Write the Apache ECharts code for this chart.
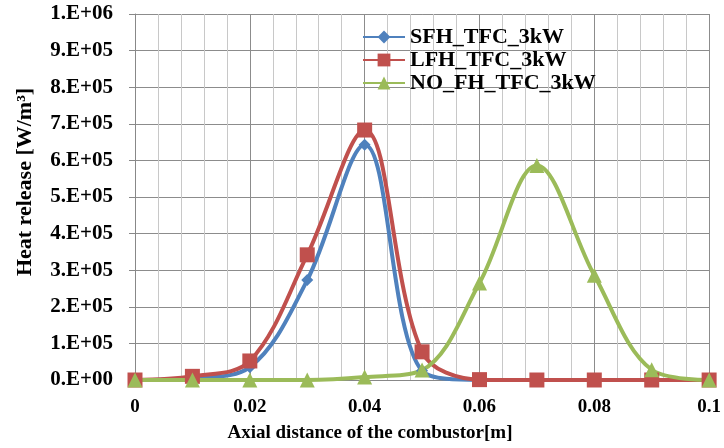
<!DOCTYPE html>
<html>
<head>
<meta charset="utf-8">
<script src="https://cdn.jsdelivr.net/npm/echarts@6/dist/echarts.min.js"></script>
<style>
html, body { margin: 0; padding: 0; background: #fff; }
#chart { width: 724px; height: 448px; }
</style>
</head>
<body>
<div id="chart"></div>
<script>
// axial positions [m]
const xPos = [0, 0.01, 0.02, 0.03, 0.04, 0.05, 0.06, 0.07, 0.08, 0.09, 0.1];
// heat release [W/m3]
const sfh = [0, 5000, 35000, 273000, 643000, 25000, 0, 0, 0, 0, 0];
const lfh = [0, 10000, 52000, 342000, 683000, 77000, 1000, 0, 0, 0, 0];
const noFh = [0, 0, 0, 0, 8000, 27000, 265000, 586000, 286000, 28000, 0];
const seriesNames = ['SFH_TFC_3kW', 'LFH_TFC_3kW', 'NO_FH_TFC_3kW'];
const xTitle = 'Axial distance of the combustor[m]';
const yTitle = 'Heat release [W/m³]';

const font = 'Liberation Serif';
const pairs = arr => xPos.map((x, i) => [x, arr[i]]);

const chart = echarts.init(document.getElementById('chart'));
chart.setOption({
    animation: false,
    textStyle: { fontFamily: font },
    grid: { left: 135, right: 13, top: 14, bottom: 68 },
    legend: {
        orient: 'vertical',
        left: 357,
        top: 21,
        itemGap: 1,
        itemWidth: 42,
        itemHeight: 16,
        textStyle: { fontFamily: font, fontWeight: 'bold', fontSize: 22, color: '#000' },
        data: seriesNames
    },
    // axis titles sit a bit off-centre in the original, so they are placed by hand
    graphic: [
        {
            type: 'text', x: 370, y: 433,
            style: { text: xTitle, font: 'bold 19px "Liberation Serif"', fill: '#000', align: 'center', verticalAlign: 'middle' }
        },
        {
            type: 'text', x: 25, y: 182, rotation: Math.PI / 2,
            style: { text: yTitle, font: 'bold 22px "Liberation Serif"', fill: '#000', align: 'center', verticalAlign: 'middle' }
        }
    ],
    xAxis: {
        type: 'value',
        min: 0,
        max: 0.1,
        interval: 0.02,
        axisLine: { lineStyle: { color: '#888' } },
        axisTick: { show: false },
        axisLabel: {
            fontFamily: font, fontWeight: 'bold', fontSize: 19, color: '#000', margin: 18,
            formatter: v => String(+v.toFixed(2))
        },
        splitLine: { show: true, lineStyle: { color: '#8c8c8c', width: 1 } },
        minorTick: { show: false, splitNumber: 5 },
        minorSplitLine: { show: true, lineStyle: { color: '#c8c8c8', width: 1 } }
    },
    yAxis: {
        type: 'value',
        min: 0,
        max: 1000000,
        interval: 100000,
        axisLine: { show: true, lineStyle: { color: '#888' } },
        axisTick: { show: true, length: 6, lineStyle: { color: '#888' } },
        axisLabel: {
            fontFamily: font, fontWeight: 'bold', fontSize: 21, color: '#000', margin: 22,
            formatter: v => {
                if (v === 0) return '0.E+00';
                if (v >= 1000000) return '1.E+06';
                return Math.round(v / 100000) + '.E+05';
            }
        },
        splitLine: { show: true, lineStyle: { color: '#8c8c8c', width: 1 } }
    },
    series: [
        {
            name: seriesNames[0], type: 'line', smooth: 0.35, data: pairs(sfh),
            symbol: 'diamond', symbolSize: 12,
            lineStyle: { width: 4, color: '#4F81BD' }, itemStyle: { color: '#4F81BD' }
        },
        {
            name: seriesNames[1], type: 'line', smooth: 0.35, data: pairs(lfh),
            symbol: 'rect', symbolSize: 15,
            lineStyle: { width: 4, color: '#C0504D' }, itemStyle: { color: '#C0504D' }
        },
        {
            name: seriesNames[2], type: 'line', smooth: 0.35, data: pairs(noFh),
            symbol: 'triangle', symbolSize: 15,
            lineStyle: { width: 4, color: '#9BBB59' }, itemStyle: { color: '#9BBB59' }
        }
    ]
});
</script>
</body>
</html>
